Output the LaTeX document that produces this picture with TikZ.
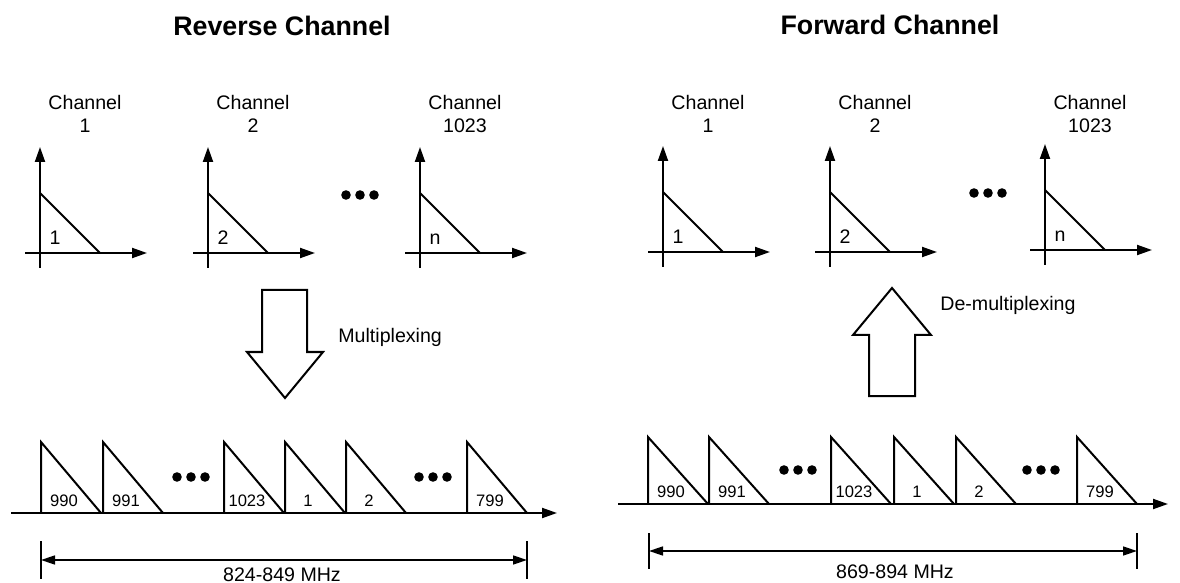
\documentclass[tikz,border=0pt]{standalone}
\usepackage{fontspec}
\setmainfont{Liberation Sans}
\usetikzlibrary{arrows.meta}

\begin{document}
\begin{tikzpicture}[
  x=0.5pt, y=-0.5pt,
  axis/.style={line width=1pt, -{Triangle[length=7.5pt, width=5pt]}},
  wave/.style={line width=1pt, line join=miter},
  dim/.style={line width=0.75pt, {Triangle[length=7pt, width=4.5pt]}-{Triangle[length=7pt, width=4.5pt]}},
  lbl/.style={font=\fontsize{9.8}{11.5}\selectfont, inner sep=0pt, anchor=base},
  num/.style={font=\fontsize{8.3}{10}\selectfont, inner sep=0pt, anchor=base},
  headline/.style={font=\fontsize{13.4}{16}\selectfont\bfseries, inner sep=0pt, anchor=base},
  blob/.style={circle, fill, inner sep=0pt, minimum size=4.8pt},
  blockarrow/.style={line width=1pt, line join=miter},
]
\useasboundingbox (0,0) rectangle (1180,583);

\node[headline] (rev) at (282,36) {Reverse Channel};
\node[headline] (fwd) at (890,35) {Forward Channel};

% single channels
\foreach \x/\ya/\t/\n in {40/253/1/1, 208/253/2/2, 420/253/n/1023, 663/252/1/1, 830/252/2/2, 1045/250/n/1023}{
  \draw[axis] (\x-15,\ya) -- (\x+107,\ya);
  \draw[axis] (\x,\ya+15) -- (\x,\ya-106);
  \draw[wave] (\x,\ya-60) -- (\x+60,\ya);
  \node[lbl] (sig\x) at (\x+15,\ya-8) {\t};
  \node[lbl, align=center] (ch\x) at (\x+45,133) {Channel\\\n};
}

\foreach \c/\yd in {360/195, 988/193, 191/477, 433/477, 798/470, 1041/470}{
  \foreach \k in {-14,0,14}
    \node[blob] (dot\c\k) at (\c+\k,\yd) {};
}

% multiplexed spectrum
\draw[axis] (11,513) -- (557,513);
\foreach \l/\t in {41/990, 103/991, 224/1023, 285/1, 346/2, 467/799}{
  \draw[wave] (\l,513) -- (\l,442) -- (\l+60,513);
  \node[num] (rb\l) at (\l+23,506) {\t};
}
\draw[axis] (618,504) -- (1168,504);
\foreach \l/\t in {648/990, 709/991, 831/1023, 894/1, 956/2, 1077/799}{
  \draw[wave] (\l,504) -- (\l,437) -- (\l+60,504);
  \node[num] (fb\l) at (\l+23,497) {\t};
}

% block arrows
\draw[blockarrow] (262,290) -- (307,290) -- (307,352) -- (323,352) -- (285,398)
  -- (247,352) -- (262,352) -- cycle;
\node[lbl, anchor=base west] (mux) at (338,343) {Multiplexing};
\draw[blockarrow] (869,396) -- (915,396) -- (915,335) -- (931,335) -- (892,288)
  -- (853,335) -- (869,335) -- cycle;
\node[lbl, anchor=base west] (demux) at (940,311) {De-multiplexing};

% bandwidth
\coordinate (rl) at (41,560);
\coordinate (rr) at (527,560);
\draw[line width=0.75pt] ([yshift=9.5pt]rl) -- ([yshift=-9.5pt]rl);
\draw[line width=0.75pt] ([yshift=9.5pt]rr) -- ([yshift=-9.5pt]rr);
\draw[dim] (rl) -- (rr);
\node[lbl] (rband) at (282,581) {824-849 MHz};
\coordinate (fl) at (649,551);
\coordinate (fr) at (1137,551);
\draw[line width=0.75pt] ([yshift=9pt]fl) -- ([yshift=-9pt]fl);
\draw[line width=0.75pt] ([yshift=9pt]fr) -- ([yshift=-9pt]fr);
\draw[dim] (fl) -- (fr);
\node[lbl] (fband) at (895,578) {869-894 MHz};
\end{tikzpicture}
\end{document}
